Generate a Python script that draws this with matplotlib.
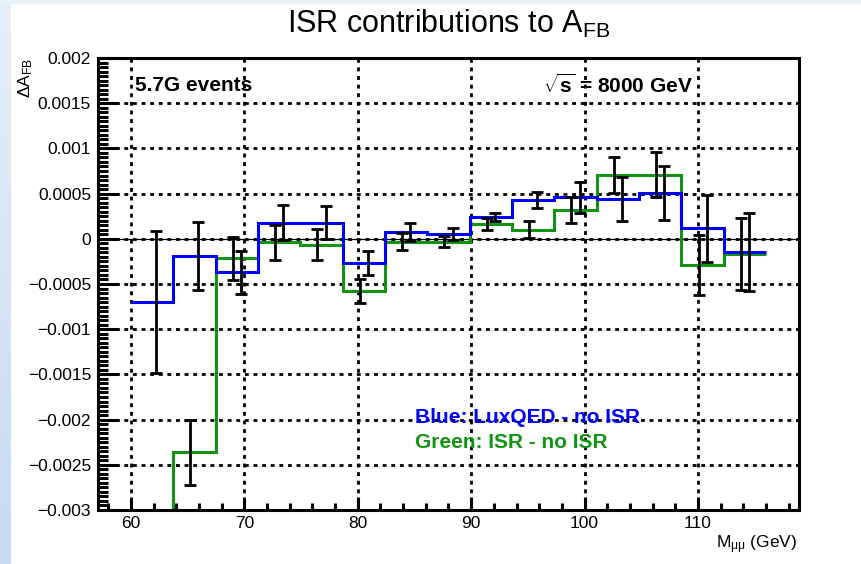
import numpy as np
import matplotlib
matplotlib.use('Agg')
import matplotlib.pyplot as plt
from matplotlib.ticker import MultipleLocator
from matplotlib.colors import LinearSegmentedColormap

plt.rcParams['font.family'] = ['Liberation Sans', 'DejaVu Sans']
plt.rcParams['mathtext.fontset'] = 'custom'
plt.rcParams['mathtext.rm'] = 'Liberation Sans'
plt.rcParams['mathtext.it'] = 'Liberation Sans:italic'
plt.rcParams['mathtext.bf'] = 'Liberation Sans:bold'

# 15 bins in M_mumu, 60-116 GeV
edges = np.linspace(60, 116, 16)

# delta A_FB in units of 1e-3
blue = [-0.70, -0.19, -0.37, 0.18, 0.18, -0.27, 0.075, 0.048,
        0.24, 0.43, 0.46, 0.44, 0.51, 0.117, -0.15]
blue_err = [0.79, 0.38, 0.24, 0.195, 0.18, 0.13, 0.10, 0.066,
            0.042, 0.089, 0.17, 0.24, 0.30, 0.37, 0.43]
green = [-4.0, -2.36, -0.217, -0.04, -0.065, -0.575, -0.03, -0.03,
         0.16, 0.10, 0.32, 0.71, 0.71, -0.29, -0.17]
green_err = [1.0, 0.36, 0.24, 0.19, 0.17, 0.13, 0.09, 0.066,
             0.065, 0.092, 0.144, 0.20, 0.25, 0.33, 0.40]

yticks = [-0.003, -0.0025, -0.002, -0.0015, -0.001, -0.0005, 0,
          0.0005, 0.001, 0.0015, 0.002]
ytick_labels = ['\u22120.003', '\u22120.0025', '\u22120.002', '\u22120.0015',
                '\u22120.001', '\u22120.0005', '0', '0.0005', '0.001',
                '0.0015', '0.002']
xticks = [60, 70, 80, 90, 100, 110]

BLUE = '#0000ff'
GREEN = '#119411'

fig = plt.figure(figsize=(8.61, 5.64), dpi=100)
fig.patch.set_facecolor('white')

# slide background: blue strip on the left, pale band on top
strip = fig.add_axes([0, 0, 11 / 861, 1])
grad = np.linspace(0, 1, 256).reshape(-1, 1)
cm = LinearSegmentedColormap.from_list('bg', ['#e7eff8', '#c6daf0'])
strip.imshow(grad, aspect='auto', cmap=cm, extent=[0, 1, 0, 1], origin='upper')
strip.set_axis_off()
band = fig.add_axes([0, 1 - 4 / 564, 1, 4 / 564])
band.set_axis_off()
band.add_patch(plt.Rectangle((0, 0), 1, 1, color='#e8f0f8', transform=band.transAxes))

ax = fig.add_axes([98 / 861, 54 / 564, 701 / 861, 452 / 564])
ax.set_xlim(57.1, 118.9)
ax.set_ylim(-0.003, 0.002)

scale = 1e-3
b = np.array(blue) * scale
g = np.array(green) * scale
centers = 0.5 * (edges[:-1] + edges[1:])

# grid and zero line
for xv in xticks:
    ax.axvline(xv, color='black', lw=2.0, ls=(0, (1.4, 1.7)), zorder=1)
for yv in yticks[1:-1]:
    ax.axhline(yv, color='black', lw=2.0, ls=(0, (1.4, 1.7)), zorder=1)
ax.axhline(0, color='black', lw=0.9, zorder=1.5)

ax.stairs(g, edges, baseline=None, color=GREEN, lw=2.2, zorder=2)
ax.stairs(b, edges, baseline=None, color=BLUE, lw=2.2, zorder=2.1)

ax.errorbar(centers - 0.36, g, yerr=np.array(green_err) * scale, fmt='none',
            ecolor='black', elinewidth=2.0, capsize=4.3, capthick=2.0, zorder=3)
ax.errorbar(centers + 0.36, b, yerr=np.array(blue_err) * scale, fmt='none',
            ecolor='black', elinewidth=2.0, capsize=4.3, capthick=2.0, zorder=3)

# axes styling
for sp in ax.spines.values():
    sp.set_linewidth(2.2)
ax.set_xticks(xticks)
ax.set_xticklabels([str(v) for v in xticks])
ax.xaxis.set_minor_locator(MultipleLocator(2))
ax.set_yticks(yticks)
ax.set_yticklabels(ytick_labels)
ax.yaxis.set_minor_locator(MultipleLocator(0.00005))
ax.tick_params(axis='both', which='both', direction='in', width=2.2,
               labelsize=12.5, top=False, right=False)
ax.tick_params(axis='y', which='major', length=15, pad=5)
ax.tick_params(axis='y', which='minor', length=7.5)
ax.tick_params(axis='x', which='major', length=9.5, pad=4)
ax.tick_params(axis='x', which='minor', length=4.8)

ax.text(60.38, 0.00170, '5.7G events', fontsize=15, fontweight='bold',
        ha='left', va='center', zorder=4)
ax.text(109.54, 0.00170, r'$\mathbf{\sqrt{s}}$ = 8000 GeV', fontsize=15,
        fontweight='bold', ha='right', va='center', zorder=4)
ax.text(85.05, -0.001975, 'Blue: LuxQED - no ISR', fontsize=15,
        fontweight='bold', color=BLUE, ha='left', va='center', zorder=4)
ax.text(85.05, -0.002257, 'Green: ISR - no ISR', fontsize=15,
        fontweight='bold', color=GREEN, ha='left', va='center', zorder=4)

fig.text(448.5 / 861, 1 - 33 / 564, r'ISR contributions to A$_{\mathrm{FB}}$',
         fontsize=22, ha='center', va='baseline')
fig.text(26 / 861, 1 - 58 / 564, r'$\Delta$A$_{\mathrm{FB}}$', fontsize=12.5,
         rotation=90, ha='center', va='top')
fig.text(797 / 861, 1 - 548 / 564, r'M$_{\mathrm{\mu\mu}}$ (GeV)',
         fontsize=12.5, ha='right', va='baseline')

fig.savefig('out.png', dpi=100)
